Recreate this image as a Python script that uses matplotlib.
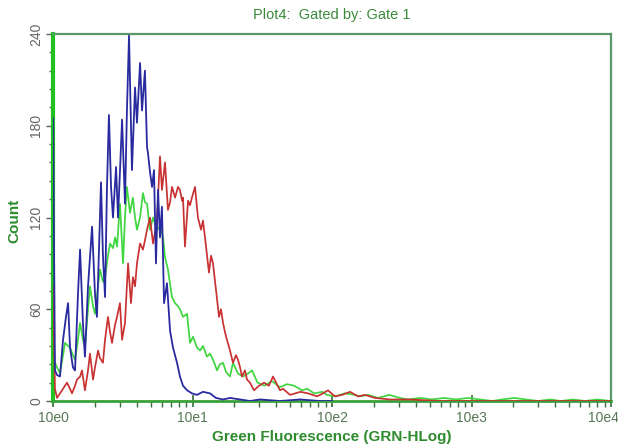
import numpy as np
import matplotlib
matplotlib.use("Agg")
import matplotlib.pyplot as plt
from matplotlib.ticker import FixedLocator, FuncFormatter, MultipleLocator
from matplotlib.transforms import ScaledTranslation

# ---- data: decade position (log10 of fluorescence) and counts -------------
blue_pos = [0.000, 0.014, 0.029, 0.050, 0.072, 0.093, 0.108, 0.122, 0.143, 0.158,
            0.179, 0.194, 0.215, 0.229, 0.251, 0.280, 0.301, 0.315, 0.330, 0.344,
            0.358, 0.373, 0.387, 0.401, 0.416, 0.430, 0.452, 0.466, 0.480, 0.495,
            0.516, 0.530, 0.545, 0.566, 0.588, 0.602, 0.624, 0.638, 0.659, 0.674,
            0.681, 0.695, 0.710, 0.724, 0.738, 0.753, 0.767, 0.781, 0.796, 0.817,
            0.839, 0.860, 0.889, 0.910, 0.932, 0.961, 0.996, 1.032, 1.075, 1.125,
            1.168, 1.219, 1.269, 1.341, 1.412, 1.484, 1.627, 1.771, 1.914, 2.000]
blue_cnt = [185, 20, 17, 16, 40, 55, 64, 35, 22, 20,
            70, 99, 50, 29, 75, 114, 70, 55, 100, 143,
            95, 68, 140, 187, 140, 120, 153, 120, 150, 184,
            129, 190, 239, 151, 205, 182, 221, 190, 216, 166,
            162, 150, 140, 151, 90, 138, 107, 127, 64, 77,
            46, 35, 25, 16, 10, 7, 5, 4, 6, 5,
            2, 1, 2, 1, 0, 1, 0, 1, 0, 0]

green_pos = [0.014, 0.029, 0.050, 0.072, 0.086, 0.108, 0.122, 0.143, 0.158, 0.179,
             0.194, 0.215, 0.229, 0.251, 0.265, 0.287, 0.301, 0.323, 0.337, 0.358,
             0.373, 0.394, 0.409, 0.430, 0.445, 0.459, 0.480, 0.502, 0.516, 0.530,
             0.552, 0.573, 0.588, 0.602, 0.624, 0.645, 0.659, 0.674, 0.695, 0.717,
             0.745, 0.767, 0.789, 0.803, 0.824, 0.853, 0.875, 0.896, 0.910, 0.932,
             0.961, 0.982, 1.004, 1.032, 1.054, 1.075, 1.104, 1.125, 1.147, 1.176,
             1.197, 1.219, 1.240, 1.269, 1.290, 1.326, 1.362, 1.398, 1.427, 1.466,
             1.516, 1.570, 1.627, 1.677, 1.728, 1.786, 1.824, 1.871, 1.932, 1.964,
             2.021, 2.093, 2.165, 2.201, 2.258, 2.330, 2.409, 2.487, 2.545, 2.631,
             2.717, 2.803, 2.889, 2.975, 3.061, 3.147, 3.219, 3.305, 3.391, 3.477,
             3.563, 3.642, 3.728, 3.814, 3.900, 4.000]
green_cnt = [25, 22, 18, 30, 38, 36, 35, 30, 27, 40,
             51, 40, 35, 60, 75, 62, 57, 75, 86, 78,
             81, 95, 103, 100, 107, 101, 129, 90, 120, 140,
             123, 133, 120, 112, 120, 136, 130, 129, 112, 120,
             112, 114, 107, 94, 86, 68, 64, 62, 60, 55,
             57, 38, 42, 35, 33, 36, 29, 31, 27, 20,
             24, 25, 19, 16, 25, 18, 16, 18, 20, 12,
             10, 13, 9, 11, 10, 7, 8, 5, 6, 4,
             3, 5, 4, 3, 4, 2, 4, 2, 1, 2,
             1, 2, 1, 2, 1, 0, 1, 2, 1, 0,
             1, 0, 1, 0, 1, 0]

red_pos = [0.000, 0.014, 0.029, 0.050, 0.072, 0.100, 0.122, 0.136, 0.158, 0.172,
           0.194, 0.208, 0.229, 0.251, 0.265, 0.287, 0.301, 0.323, 0.337, 0.358,
           0.373, 0.394, 0.409, 0.423, 0.445, 0.459, 0.480, 0.495, 0.516, 0.538,
           0.559, 0.573, 0.588, 0.602, 0.624, 0.645, 0.659, 0.674, 0.695, 0.717,
           0.731, 0.745, 0.767, 0.781, 0.803, 0.824, 0.839, 0.853, 0.875, 0.896,
           0.910, 0.925, 0.932, 0.946, 0.968, 0.982, 0.996, 1.018, 1.039, 1.061,
           1.075, 1.097, 1.118, 1.133, 1.147, 1.168, 1.190, 1.204, 1.219, 1.233,
           1.247, 1.269, 1.290, 1.312, 1.326, 1.341, 1.355, 1.376, 1.391, 1.412,
           1.441, 1.477, 1.513, 1.548, 1.577, 1.627, 1.649, 1.699, 1.774, 1.828,
           1.893, 1.935, 1.971, 2.021, 2.072, 2.129, 2.186, 2.236, 2.308, 2.416,
           2.559, 2.760, 4.000]
red_cnt = [75, 8, 2, 5, 8, 12, 8, 5, 10, 14,
           16, 20, 7, 20, 31, 14, 22, 33, 28, 25,
           40, 55, 45, 38, 50, 55, 64, 40, 51, 90,
           64, 81, 75, 90, 103, 99, 105, 112, 120, 103,
           110, 118, 160, 138, 156, 125, 130, 140, 133, 140,
           138, 131, 133, 101, 131, 128, 133, 140, 120, 112,
           118, 101, 84, 95, 90, 73, 55, 60, 51, 45,
           40, 33, 25, 30, 27, 22, 16, 20, 14, 12,
           7, 10, 12, 10, 16, 7, 8, 4, 6, 5,
           3, 5, 7, 3, 4, 6, 3, 4, 2, 1,
           1, 0, 0]

x_decades = [0, 1, 2, 3, 4]
x_labels = ["10e0", "10e1", "10e2", "10e3", "10e4"]
y_major = [0, 60, 120, 180, 240]

title_text = "Plot4:  Gated by: Gate 1"
xlabel_text = "Green Fluorescence (GRN-HLog)"
ylabel_text = "Count"

# ---- styling ---------------------------------------------------------------
plt.rcParams['font.family'] = ['Liberation Sans', 'DejaVu Sans']

fig = plt.figure(figsize=(6.18, 4.48), dpi=100)
ax = fig.add_axes([53 / 618, 1 - 401 / 448, (611 - 53) / 618, (401 - 34) / 448])

col_blue = "#2a2aa0"
col_green = "#3fd63f"
col_red = "#c83232"

ax.plot(10 ** np.array(green_pos), green_cnt, color=col_green, lw=1.25, zorder=2)
ax.plot(10 ** np.array(red_pos), red_cnt, color=col_red, lw=1.25, zorder=3)
ax.plot(10 ** np.array(blue_pos), blue_cnt, color=col_blue, lw=1.3, zorder=4)

ax.set_xscale("log")
ax.set_xlim(10 ** x_decades[0], 10 ** x_decades[-1])
ax.set_ylim(y_major[0], y_major[-1])

ax.set_xticks([10.0 ** d for d in x_decades])
ax.set_xticklabels(x_labels)
minor = [m * 10.0 ** d for d in x_decades[:-1] for m in range(2, 10)]
ax.xaxis.set_minor_locator(FixedLocator(minor))
ax.xaxis.set_minor_formatter(FuncFormatter(lambda v, p: ""))

ax.set_yticks(y_major)
ax.set_yticklabels([str(v) for v in y_major], rotation=90, va="center")
ax.yaxis.set_minor_locator(MultipleLocator(12))

ax.tick_params(axis="x", which="major", direction="inout", length=8, width=1.2,
               color="#3a6a3a", labelsize=10, labelcolor="#557755", pad=3)
ax.tick_params(axis="x", which="minor", direction="out", length=4, width=1.0,
               color="#3a6a3a")
ax.tick_params(axis="y", which="major", direction="out", length=5, width=1.0,
               color="#556655", labelsize=10, labelcolor="#666666", pad=2)
ax.tick_params(axis="y", which="minor", direction="out", length=3, width=1.0,
               color="#556655")

# keep the last x label inside the figure
last = ax.get_xticklabels()[-1]
last.set_transform(last.get_transform() + ScaledTranslation(-8 / 100, 0, fig.dpi_scale_trans))

for s in ["top", "right"]:
    ax.spines[s].set_color("#5a9a6a")
    ax.spines[s].set_linewidth(1.6)
ax.spines["left"].set_color("#22c022")
ax.spines["left"].set_linewidth(3.0)
ax.spines["bottom"].set_color("#3aa03a")
ax.spines["bottom"].set_linewidth(2.0)

ax.set_title(title_text, color="#3a8a3a", fontsize=10.5, pad=11)
ax.set_xlabel(xlabel_text, color="#2e8b2e", fontsize=11, fontweight="bold", labelpad=4)
ax.set_ylabel(ylabel_text, color="#2e8b2e", fontsize=11, fontweight="bold")
ax.yaxis.set_label_coords(-0.056, 0.49)

fig.savefig("out.png", dpi=100, facecolor="white")
